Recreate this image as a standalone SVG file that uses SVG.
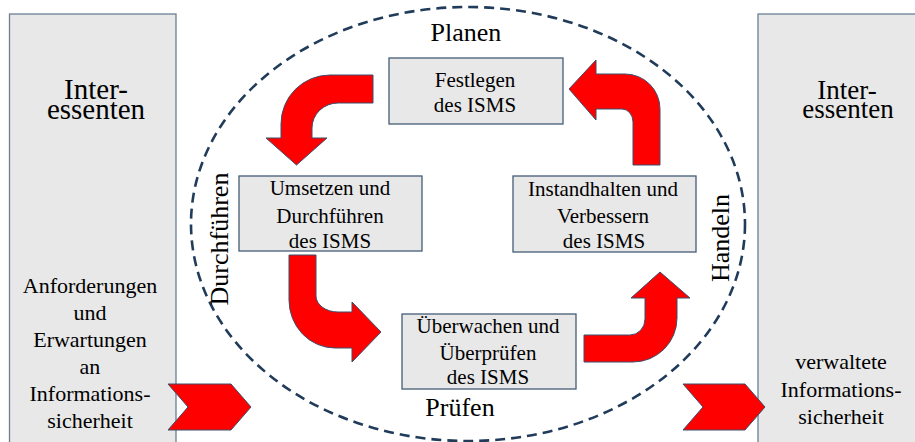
<svg xmlns="http://www.w3.org/2000/svg" width="915" height="442" viewBox="0 0 915 442">
<style>
.panel{fill:#e8e8e8;stroke:#6b7f95;stroke-width:1.3}
.box{fill:#e8e8e8;stroke:#465c75;stroke-width:1.3}
.arr{fill:#ff0000;stroke:#3b4f6b;stroke-width:1}
.t{font-family:"Liberation Serif","Times New Roman",serif;fill:#000;text-anchor:middle}
.bt{font-size:21px}
.big{font-size:29px}
.mid{font-size:22px}
.ph{font-size:26px}
</style>
<rect width="915" height="442" fill="#ffffff"/>
<g id="interessenten-left">
<rect class="panel" x="9.5" y="14" width="166.5" height="440"/>
<text class="t big" x="96" y="99">Inter-</text>
<text class="t big" x="96" y="119">essenten</text>
<text class="t mid" x="90" y="293">Anforderungen</text>
<text class="t mid" x="90" y="320">und</text>
<text class="t mid" x="90" y="347">Erwartungen</text>
<text class="t mid" x="90" y="374">an</text>
<text class="t mid" x="90" y="401">Informations-</text>
<text class="t mid" x="90" y="428">sicherheit</text>
</g>
<g id="interessenten-right">
<rect class="panel" x="758" y="14" width="166" height="440"/>
<text class="t" style="font-size:27px" x="847" y="99">Inter-</text>
<text class="t" style="font-size:27px" x="848" y="118">essenten</text>
<text class="t mid" x="841" y="369">verwaltete</text>
<text class="t mid" x="841" y="397">Informations-</text>
<text class="t mid" x="841" y="424">sicherheit</text>
</g>
<g id="cycle">
<ellipse cx="468" cy="224" rx="277" ry="217" fill="none" stroke="#203c5a" stroke-width="2.6" stroke-dasharray="10 6"/>
<text class="t ph" x="466" y="41">Planen</text>
<text class="t ph" x="460" y="416">Prüfen</text>
<text class="t ph" transform="translate(228,239) rotate(-90)" x="0" y="0">Durchführen</text>
<text class="t ph" transform="translate(729,238) rotate(-90)" x="0" y="0">Handeln</text>
</g>
<g id="festlegen">
<rect class="box" x="389" y="58" width="174" height="66"/>
<text class="t bt" x="475" y="87">Festlegen</text>
<text class="t bt" x="475" y="112">des ISMS</text>
</g>
<g id="umsetzen">
<rect class="box" x="239" y="176" width="183" height="75"/>
<text class="t bt" x="330" y="195">Umsetzen und</text>
<text class="t bt" x="330" y="223">Durchführen</text>
<text class="t bt" x="330" y="248">des ISMS</text>
</g>
<g id="instandhalten">
<rect class="box" x="513" y="176" width="183" height="76"/>
<text class="t bt" x="603" y="196">Instandhalten und</text>
<text class="t bt" x="603" y="223">Verbessern</text>
<text class="t bt" x="604" y="248">des ISMS</text>
</g>
<g id="ueberwachen">
<rect class="box" x="402" y="314" width="174" height="75"/>
<text class="t bt" x="488" y="333">Überwachen und</text>
<text class="t bt" x="488" y="360">Überprüfen</text>
<text class="t bt" x="488" y="384">des ISMS</text>
</g>
<g id="connectors">
<path class="arr" d="M373,75 L330,75 A49 49 0 0 0 281,124 L281,138 L266,138 L296.5,165 L327,138 L312,138 L312,128 A26 25 0 0 1 338,103 L373,103 Z"/>
<path class="arr" d="M289,255 L316,255 L316,296 A22 16 0 0 0 338,312 L352,312 L352,302 L381,332 L352,362 L352,348 L335,348 A46 48 0 0 1 289,300 Z"/>
<path class="arr" d="M584,335 L630,335 A15 16 0 0 0 645,319 L645,298 L631,298 L660,272 L690,298 L677,298 L677,318 A44 44 0 0 1 633,362 L584,362 Z"/>
<path class="arr" d="M633,165 L633,122 A11 13 0 0 0 622,109 L596,109 L596,120 L569,89 L596,60 L596,74 L625,74 A35 35 0 0 1 660,109 L660,165 Z"/>
<path class="arr" d="M168,384 L231,384 L251,407 L231,430 L168,430 L188,407 Z"/>
<path class="arr" d="M683,384 L745,384 L765,407 L745,430 L683,430 L703,407 Z"/>
</g>
</svg>
